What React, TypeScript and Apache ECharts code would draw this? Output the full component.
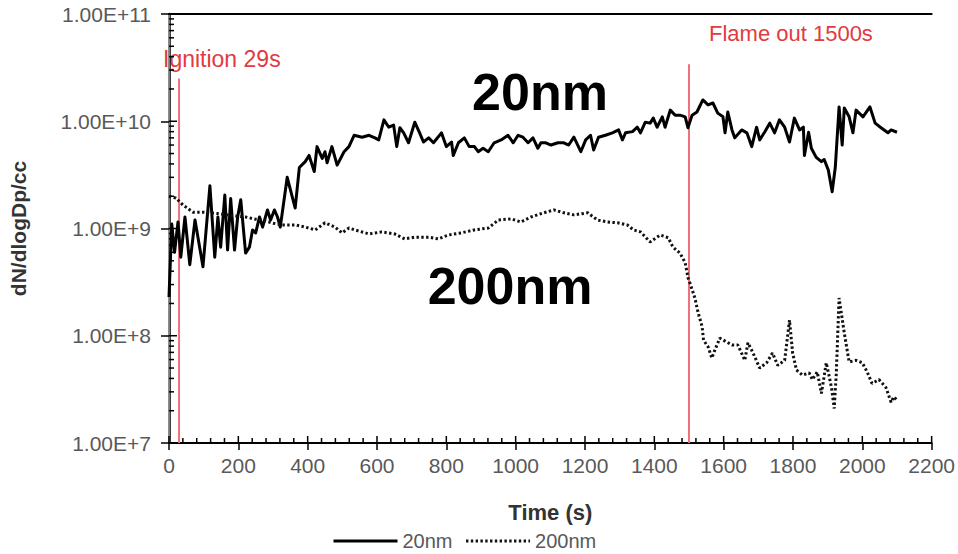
import React, { useEffect, useRef } from "react";
import * as echarts from "echarts";

// Particle number concentration, 20 nm channel
const t20 = [0, 8, 16, 26, 34, 46, 60, 75, 98, 118, 132, 141, 149, 161, 169, 178, 189, 198, 207, 221, 232, 241, 250, 261, 270, 284, 293, 304, 313, 321, 341, 364, 376, 393, 404, 419, 427, 442, 450, 456, 470, 485, 505, 519, 534, 557, 577, 594, 605, 620, 634, 648, 657, 666, 677, 691, 709, 723, 734, 749, 763, 786, 800, 815, 820, 835, 852, 866, 881, 892, 906, 921, 938, 958, 978, 993, 1007, 1021, 1036, 1050, 1064, 1073, 1087, 1102, 1122, 1139, 1153, 1168, 1188, 1202, 1216, 1225, 1239, 1259, 1279, 1297, 1308, 1317, 1337, 1351, 1360, 1374, 1388, 1397, 1408, 1423, 1431, 1446, 1460, 1474, 1489, 1497, 1509, 1523, 1540, 1555, 1569, 1583, 1598, 1604, 1612, 1624, 1632, 1652, 1667, 1681, 1695, 1704, 1718, 1733, 1747, 1761, 1776, 1790, 1804, 1819, 1830, 1833, 1845, 1853, 1867, 1882, 1890, 1902, 1913, 1922, 1933, 1942, 1948, 1962, 1973, 1982, 2002, 2022, 2037, 2054, 2074, 2083, 2100];
const n20 = [2.3e8, 1.1e9, 6.0e8, 1.15e9, 5.4e8, 1.28e9, 4.6e8, 1.2e9, 4.4e8, 2.5e9, 5.4e8, 1.28e9, 6.7e8, 2.05e9, 6.3e8, 1.9e9, 6.3e8, 1.28e9, 1.85e9, 5.9e8, 6.7e8, 9.7e8, 9.1e8, 1.28e9, 1.03e9, 1.49e9, 1.2e9, 1.49e9, 1.28e9, 1.03e9, 3.0e9, 1.55e9, 3.7e9, 4.2e9, 4.8e9, 3.4e9, 5.8e9, 4.5e9, 5.2e9, 4.1e9, 5.8e9, 3.9e9, 5.2e9, 5.8e9, 7.4e9, 7.1e9, 7.4e9, 7.0e9, 6.7e9, 1.03e10, 8.8e9, 9.2e9, 5.8e9, 8.7e9, 7.8e9, 6.3e9, 9.8e9, 7.8e9, 6.4e9, 7.0e9, 6.3e9, 7.8e9, 5.8e9, 6.4e9, 4.8e9, 6.3e9, 7.0e9, 5.8e9, 5.8e9, 5.2e9, 5.6e9, 5.2e9, 6.3e9, 6.7e9, 7.4e9, 6.3e9, 7.4e9, 7.1e9, 6.3e9, 7.0e9, 5.6e9, 6.3e9, 6.3e9, 6.0e9, 6.3e9, 6.3e9, 6.0e9, 7.1e9, 5.2e9, 6.7e9, 7.4e9, 5.4e9, 7.1e9, 7.4e9, 7.8e9, 8.3e9, 6.7e9, 7.8e9, 8.0e9, 8.8e9, 7.8e9, 9.8e9, 9.6e9, 1.07e10, 8.8e9, 1.1e10, 8.8e9, 1.27e10, 1.14e10, 1.14e10, 1.1e10, 8.7e9, 1.14e10, 1.22e10, 1.58e10, 1.42e10, 1.48e10, 1.19e10, 1.1e10, 7.8e9, 1.22e10, 8.3e9, 7.0e9, 8.3e9, 7.8e9, 5.8e9, 8.8e9, 6.7e9, 7.9e9, 9.6e9, 7.8e9, 1.03e10, 8.8e9, 6.4e9, 1.07e10, 8.3e9, 8.8e9, 4.8e9, 7.9e9, 5.6e9, 4.6e9, 4.2e9, 4.4e9, 3.5e9, 2.2e9, 3.7e9, 1.36e10, 6.0e9, 1.33e10, 1.1e10, 7.8e9, 1.27e10, 1.1e10, 1.36e10, 9.6e9, 8.7e9, 7.8e9, 8.3e9, 7.9e9];

// Particle number concentration, 200 nm channel
const t200 = [0, 20, 40, 69, 98, 140, 180, 221, 250, 270, 300, 327, 364, 393, 422, 450, 479, 499, 519, 536, 577, 614, 651, 680, 709, 729, 749, 777, 806, 843, 881, 921, 950, 987, 1015, 1044, 1081, 1110, 1139, 1168, 1208, 1236, 1265, 1294, 1322, 1340, 1360, 1388, 1417, 1440, 1454, 1474, 1489, 1497, 1509, 1517, 1526, 1538, 1542, 1555, 1566, 1575, 1589, 1610, 1624, 1641, 1661, 1670, 1684, 1704, 1724, 1741, 1756, 1776, 1790, 1799, 1810, 1827, 1847, 1856, 1870, 1882, 1896, 1905, 1911, 1919, 1925, 1933, 1948, 1962, 1982, 2000, 2014, 2028, 2048, 2068, 2083, 2091, 2100];
const n200 = [2.0e9, 1.92e9, 1.66e9, 1.42e9, 1.42e9, 1.38e9, 1.32e9, 1.28e9, 1.22e9, 1.2e9, 1.12e9, 1.08e9, 1.08e9, 1.03e9, 9.7e8, 1.13e9, 1.03e9, 9.1e8, 1.01e9, 9.7e8, 8.9e8, 9.3e8, 8.9e8, 8.0e8, 8.3e8, 8.3e8, 8.3e8, 8.0e8, 8.7e8, 9.1e8, 9.7e8, 1.01e9, 1.2e9, 1.23e9, 1.15e9, 1.28e9, 1.4e9, 1.49e9, 1.4e9, 1.34e9, 1.4e9, 1.2e9, 1.15e9, 1.13e9, 1.08e9, 9.7e8, 9.3e8, 7.5e8, 8.7e8, 8.2e8, 6.7e8, 5.9e8, 4.8e8, 3.5e8, 2.7e8, 2.25e8, 1.66e8, 1.21e8, 9.1e7, 7.9e7, 6.2e7, 7.4e7, 9.5e7, 8.7e7, 8.2e7, 8.2e7, 5.9e7, 8.6e7, 7.0e7, 5.0e7, 5.6e7, 6.9e7, 5.3e7, 5.9e7, 1.4e8, 6.9e7, 4.8e7, 4.3e7, 4.5e7, 3.9e7, 4.6e7, 2.9e7, 5.6e7, 4.1e7, 3.3e7, 2.1e7, 4.5e7, 2.25e8, 1.06e8, 5.7e7, 5.9e7, 5.6e7, 4.6e7, 3.6e7, 3.9e7, 3.3e7, 2.4e7, 2.7e7, 2.5e7];

// Event markers: [time (s), top of marker line]
const eventTimes = [29, 1500];
const eventTops = [2.5e10, 3.4e10];

const X_MIN = 0;
const X_MAX = 2200;
const X_STEP = 200;
const Y_MIN = 1e7;
const Y_MAX = 1e11;

const FONT = "'Liberation Sans', Arial, sans-serif";
const LABEL_GREY = "#595959";
const RED = "#e23a40";

// inner tick marks: log sub-divisions on the y axis, 40 s steps on the x axis
const yInnerTicks: number[][] = [];
for (let e = 7; e < 11; e++) {
  for (let m = 1; m <= 9; m++) yInnerTicks.push([X_MIN, m * Math.pow(10, e), m === 1 ? 8 : 5]);
}
yInnerTicks.push([X_MIN, Y_MAX, 8]);
const xInnerTicks: number[][] = [];
for (let t = X_MIN; t <= X_MAX; t += 40) xInnerTicks.push([t, Y_MIN, t % X_STEP === 0 ? 7 : 5]);

export default function App() {
  const ref = useRef<HTMLDivElement>(null);

  useEffect(() => {
    if (!ref.current) return;
    const chart = echarts.init(ref.current, undefined, { renderer: "svg" });

    const s20 = t20.map((t, i) => [t, n20[i]]);
    const s200 = t200.map((t, i) => [t, n200[i]]);
    const events = eventTimes.map((t, i) => [t, eventTops[i]]);

    chart.setOption({
      animation: false,
      backgroundColor: "#ffffff",
      grid: { left: 166, right: 25, top: 14, bottom: 111, containLabel: false },
      legend: {
        data: ["20nm", "200nm"],
        left: 332,
        top: 531,
        padding: 0,
        itemWidth: 64,
        itemHeight: 10,
        itemGap: 12,
        itemStyle: { opacity: 0 },
        lineStyle: { width: 3 },
        textStyle: { fontFamily: FONT, fontSize: 20, lineHeight: 20, color: LABEL_GREY },
      },
      xAxis: [
        {
          type: "value",
          min: X_MIN,
          max: X_MAX,
          interval: X_STEP,
          name: "Time (s)",
          nameLocation: "middle",
          nameGap: 58,
          nameTextStyle: { fontFamily: FONT, fontSize: 22, fontWeight: "bold", color: "#333" },
          axisLine: { show: true, lineStyle: { color: "#000", width: 2 } },
          axisTick: { show: true, length: 7, lineStyle: { color: "#000", width: 1.5 } },
          axisLabel: {
            margin: 12,
            fontFamily: FONT,
            fontSize: 21,
            color: LABEL_GREY,
            formatter: (v: number) => String(v),
          },
          splitLine: { show: false },
        },
        {
          type: "value",
          position: "top",
          min: X_MIN,
          max: X_MAX,
          interval: X_STEP,
          axisLine: { show: true, lineStyle: { color: "#000", width: 2 } },
          axisTick: { show: false },
          axisLabel: { show: false },
          splitLine: { show: false },
        },
      ],
      yAxis: [
        {
          type: "log",
          logBase: 10,
          min: Y_MIN,
          max: Y_MAX,
          name: "dN/dlogDp/cc",
          nameLocation: "middle",
          nameRotate: 90,
          nameGap: 140,
          nameTextStyle: { fontFamily: FONT, fontSize: 21, fontWeight: "bold", color: "#333" },
          axisLine: { show: true, lineStyle: { color: "#000", width: 2.5 } },
          axisTick: { show: true, length: 8, lineStyle: { color: "#000", width: 1.5 } },
          axisLabel: {
            margin: 18,
            fontFamily: FONT,
            fontSize: 21,
            color: LABEL_GREY,
            formatter: (v: number) => v.toExponential(2).toUpperCase(),
          },
          splitLine: { show: false },
        },
        {
          type: "log",
          logBase: 10,
          position: "right",
          min: Y_MIN,
          max: Y_MAX,
          axisLine: { show: true, lineStyle: { color: "#a6a6a6", width: 1.5 } },
          axisTick: { show: false },
          axisLabel: { show: false },
          splitLine: { show: false },
        },
      ],
      series: [
        {
          type: "custom",
          name: "eventLines",
          silent: true,
          z: 1,
          data: events,
          renderItem: (_p: any, api: any) => {
            const top = api.coord([api.value(0), api.value(1)]);
            const bottom = api.coord([api.value(0), Y_MIN]);
            return {
              type: "line",
              shape: { x1: top[0], y1: top[1], x2: bottom[0], y2: bottom[1] },
              style: { stroke: "#f0707c", lineWidth: 2 },
            };
          },
        },
        {
          type: "line",
          name: "20nm",
          data: s20,
          showSymbol: false,
          symbol: "none",
          z: 3,
          lineStyle: { color: "#000", width: 3, join: "round" },
          itemStyle: { color: "#000" },
        },
        {
          type: "line",
          name: "200nm",
          data: s200,
          showSymbol: false,
          symbol: "none",
          z: 3,
          lineStyle: { color: "#111", width: 3, type: [2.4, 2.4] },
          itemStyle: { color: "#111" },
        },
        {
          type: "custom",
          name: "yTicks",
          silent: true,
          z: 4,
          data: yInnerTicks,
          renderItem: (_p: any, api: any) => {
            const p = api.coord([api.value(0), api.value(1)]);
            return {
              type: "line",
              shape: { x1: p[0], y1: p[1], x2: p[0] + api.value(2), y2: p[1] },
              style: { stroke: "#000", lineWidth: 1.5 },
            };
          },
        },
        {
          type: "custom",
          name: "xTicks",
          silent: true,
          z: 4,
          data: xInnerTicks,
          renderItem: (_p: any, api: any) => {
            const p = api.coord([api.value(0), api.value(1)]);
            return {
              type: "line",
              shape: { x1: p[0], y1: p[1], x2: p[0], y2: p[1] - api.value(2) },
              style: { stroke: "#000", lineWidth: 1.5 },
            };
          },
        },
      ],
      graphic: [
        {
          type: "text",
          z: -10,
          x: 163,
          y: 59,
          style: {
            text: "Ignition 29s",
            fill: RED,
            font: `23px ${FONT}`,
            textAlign: "left",
            textVerticalAlign: "middle",
          },
        },
        {
          type: "text",
          x: 709,
          y: 33,
          style: {
            text: "Flame out 1500s",
            fill: RED,
            font: `22px ${FONT}`,
            textAlign: "left",
            textVerticalAlign: "middle",
          },
        },
        {
          type: "text",
          x: 540,
          y: 92,
          style: {
            text: "20nm",
            fill: "#000",
            font: `bold 52px ${FONT}`,
            textAlign: "center",
            textVerticalAlign: "middle",
          },
        },
        {
          type: "text",
          x: 510,
          y: 286,
          style: {
            text: "200nm",
            fill: "#000",
            font: `bold 52px ${FONT}`,
            textAlign: "center",
            textVerticalAlign: "middle",
          },
        },
      ],
    });

    return () => chart.dispose();
  }, []);

  return (
    <div
      ref={ref}
      style={{ position: "fixed", left: 0, top: 0, width: "958px", height: "554px", background: "#fff" }}
    />
  );
}
